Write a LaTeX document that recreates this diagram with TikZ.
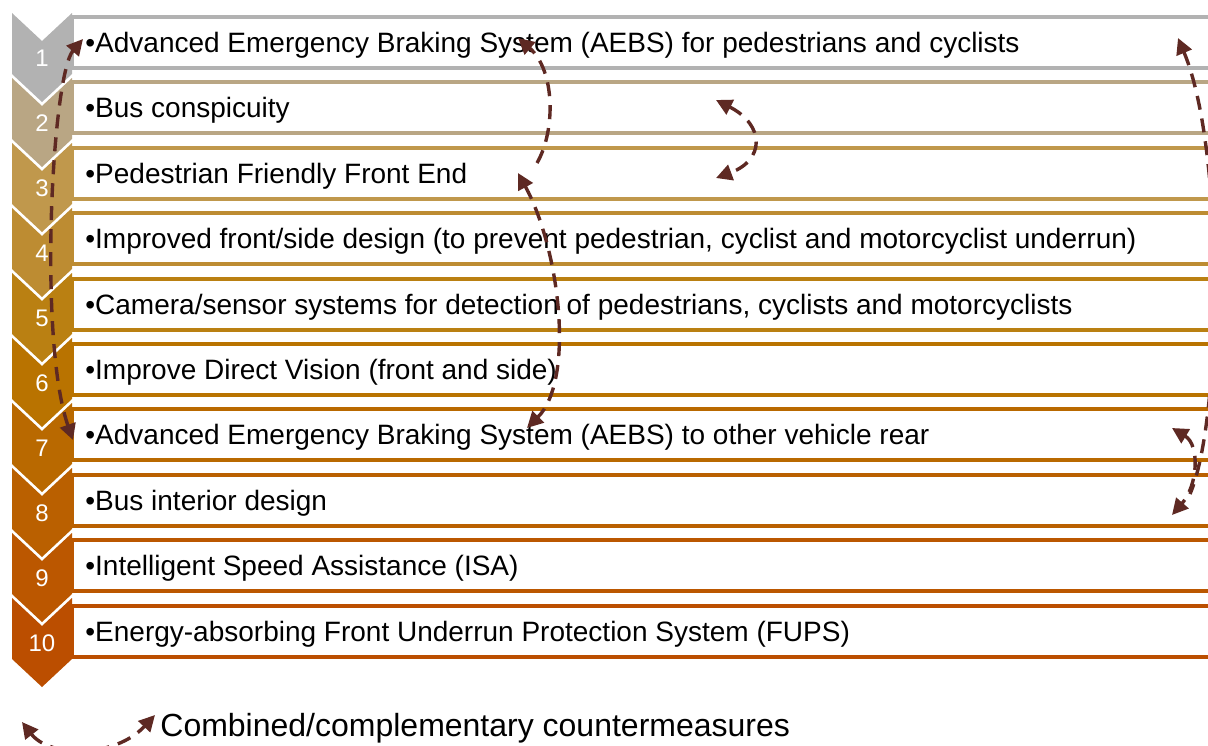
\documentclass[tikz,border=0pt]{standalone}
\usepackage{fontspec}
\setmainfont{Liberation Sans}
\usetikzlibrary{arrows.meta}
\definecolor{c1}{RGB}{178,178,178}
\definecolor{c2}{RGB}{185,166,132}
\definecolor{c3}{RGB}{192,152,76}
\definecolor{c4}{RGB}{189,140,50}
\definecolor{c5}{RGB}{186,128,18}
\definecolor{c6}{RGB}{185,115,0}
\definecolor{c7}{RGB}{185,105,0}
\definecolor{c8}{RGB}{186,96,0}
\definecolor{c9}{RGB}{187,87,0}
\definecolor{c10}{RGB}{187,78,0}
\definecolor{arrowc}{RGB}{94,41,35}
\begin{document}
\begin{tikzpicture}[x=0.5pt,y=-0.5pt,
  rowline/.style={line width=2pt},
  rowtext/.style={anchor=base west, inner sep=0pt, font=\fontsize{14}{17}\selectfont},
  num/.style={anchor=base, inner sep=0pt, text=white, font=\fontsize{12}{14}\selectfont},
  link/.style={draw=arrowc, line width=1.7pt, dash pattern=on 7pt off 4.5pt},
  hd/.tip={Triangle[length=8pt,width=8pt]}]
\clip (0,0) rectangle (1208,745);
\foreach \k/\t in {1/{Advanced Emergency Braking System (AEBS) for pedestrians and cyclists},
  2/{Bus conspicuity},
  3/{Pedestrian Friendly Front End},
  4/{Improved front/side design (to prevent pedestrian, cyclist and motorcyclist underrun)},
  5/{Camera/sensor systems for detection of pedestrians, cyclists and motorcyclists},
  6/{Improve Direct Vision (front and side)},
  7/{Advanced Emergency Braking System (AEBS) to other vehicle rear},
  8/{Bus interior design},
  9/{Intelligent Speed Assistance (ISA)},
  10/{Energy-absorbing Front Underrun Protection System (FUPS)}}{
  \pgfmathsetmacro\T{13+65*(\k-1)}
  \pgfmathsetmacro\B{17+65.4*(\k-1)}
  \draw[rowline, draw=c\k, fill=white] (72,\B) rectangle (1240,\B+51);
  \fill[c\k] (12,\T) -- (42,\T+28) -- (72,\T) -- (72,\T+61) -- (42,\T+89) -- (12,\T+61) -- cycle;
  \node[num] (n\k) at (42,\T+53) {\k};
  \node[rowtext] (t\k) at (85,\B+35.5) {\textbullet\t};
}
% connector end points
\coordinate (a1) at (83,39);
\coordinate (a7) at (73,440);
\coordinate (m1) at (518,38);
\coordinate (m3) at (518,173);
\coordinate (m3b) at (537,163);
\coordinate (m7) at (527,428);
\coordinate (s2) at (716,100);
\coordinate (s3) at (716,178);
\coordinate (r1) at (1178,38);
\coordinate (r7) at (1172,428);
\coordinate (r8) at (1172,515);
\coordinate (r8b) at (1190,494);
\coordinate (g1) at (22,722);
\coordinate (g2) at (155,715);
% connectors
\draw[link,hd-hd] (a7) .. controls (38,340) and (52,75) .. (a1);
\draw[link,-hd] (m3b) .. controls (556,130) and (555,70) .. (m1);
\draw[link,hd-hd] (m3) .. controls (560,250) and (575,380) .. (m7);
\draw[link,hd-hd] (s2) .. controls (765,125) and (765,160) .. (s3);
\draw[link,hd-] (r1) .. controls (1225,150) and (1222,420) .. (r8b);
\draw[link,hd-hd] (r7) .. controls (1200,445) and (1198,485) .. (r8);
% legend
\draw[link,hd-hd] (g1) .. controls (50,758) and (115,758) .. (g2);
\node[anchor=base west, inner sep=0pt, font=\fontsize{16}{19}\selectfont] (leg) at (160,736) {Combined/complementary countermeasures};
\end{tikzpicture}
\end{document}
